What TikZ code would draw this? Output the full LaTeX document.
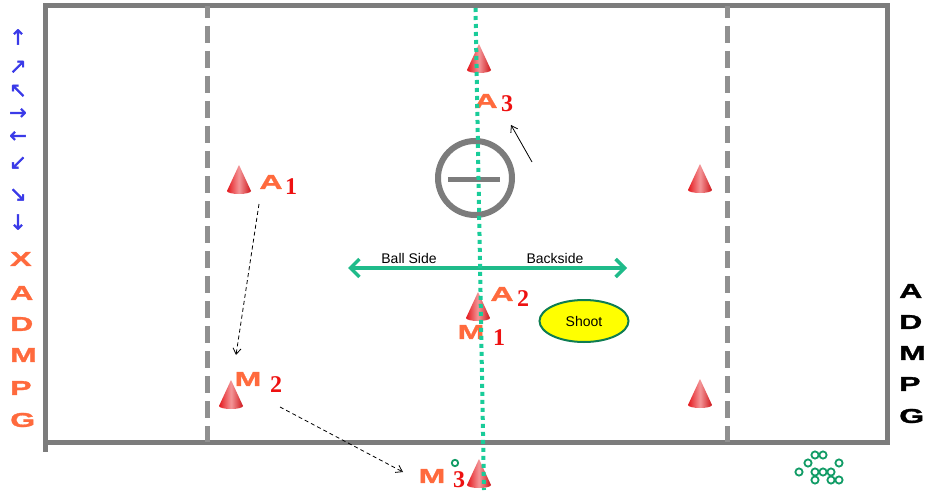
\documentclass[tikz,border=0pt]{standalone}
\usepackage{fontspec}
\setmainfont{Liberation Serif}
\setsansfont{Liberation Sans}
\newfontfamily\blockfont[FakeStretch=1.6,FakeBold=1.5]{Liberation Sans}
\newfontfamily\symfont[FakeBold=1.8]{DejaVu Sans}
\usepackage{tikz}
\usetikzlibrary{arrows.meta,shapes.geometric}
\definecolor{field}{HTML}{7C7C7C}
\definecolor{conered}{HTML}{E5171C}
\definecolor{lbl}{HTML}{FF6A3D}
\definecolor{num}{HTML}{EE1111}
\definecolor{midl}{HTML}{19CC99}
\definecolor{side}{HTML}{1FBB8A}
\definecolor{legblue}{HTML}{3A3AE8}
\definecolor{ring}{HTML}{129C66}
\definecolor{shootc}{HTML}{FFFF00}
\tikzset{
  fieldline/.style={draw=field,line width=5pt},
  halfline/.style={draw=field!85,line width=5pt,dash pattern=on 17pt off 8pt,dash phase=5pt},
  midline/.style={draw=midl,line width=4pt,dash pattern=on 4pt off 4pt},
  plab/.style={font=\blockfont\bfseries\fontsize{20}{20}\selectfont,text=lbl,inner sep=0pt},
  pnum/.style={font=\rmfamily\bfseries\fontsize{24}{24}\selectfont,text=num,inner sep=0pt},
  legarr/.style={font=\symfont\fontsize{21}{21}\selectfont,text=legblue,inner sep=0pt},
  leglet/.style={font=\blockfont\bfseries\fontsize{20}{20}\selectfont,text=lbl,inner sep=0pt,anchor=west},
  sidelab/.style={font=\sffamily\fontsize{14}{14}\selectfont,inner sep=0pt},
  shootbox/.style={ellipse,draw=ring!80!black,line width=2pt,fill=shootc,minimum width=89pt,minimum height=42pt,inner sep=0pt,font=\sffamily\fontsize{14}{14}\selectfont},
  sidearr/.style={{Straight Barb[length=9pt,width=18pt]}-{Straight Barb[length=9pt,width=18pt]},draw=side,line width=3.5pt},
  movearr/.style={-{Straight Barb[length=6pt,width=8pt]},draw=black,line width=0.8pt},
  dmovearr/.style={movearr,dash pattern=on 4pt off 3pt},
  ballring/.style={draw=ring,line width=1.8pt},
  pics/cone/.style={code={
    \shade[left color=conered,right color=conered!90!black,middle color=conered!45]
      (-12,0) -- (0,-26) -- (12,0) arc[start angle=0,end angle=180,x radius=12,y radius=3] -- cycle;
  }},
}

\begin{document}
\begin{tikzpicture}[x=1pt,y=-1pt]
\useasboundingbox[fill=white] (0,0) rectangle (926,492);
% field
\draw[fieldline] (45,6) rectangle (887,442);
\draw[fieldline] (45,442) -- (45,452);
\foreach \x in {207,727}{ \draw[halfline] (\x,6) -- (\x,442);}
% goal circle
\draw[draw=field,line width=6pt] (475,178) circle[radius=37];
\draw[draw=field,line width=5pt] (448,179) -- (500,179);
% cones
\foreach \x/\y in {479/70,239/191,700/190,478/318,231/406,700/405,479/485}{ \pic at (\x,\y) {cone};}
% players
\node[plab] (a1) at (271,182) {A};
\node[pnum] (a1n) at (291,187) {1};
\node[plab] (a3) at (486,101) {A};
\node[pnum] (a3n) at (507,104) {3};
\node[plab] (a2) at (502,294) {A};
\node[pnum] (a2n) at (523,299) {2};
\node[plab] (m1) at (471,332) {M};
\node[pnum] (m1n) at (499,338) {1};
\node[plab] (m2) at (248,379) {M};
\node[pnum] (m2n) at (276,385) {2};
\node[plab] (m3) at (432,476) {M};
\node[pnum] (m3n) at (459,480) {3};
\draw[ballring] (455,463) circle[radius=3.2];
% movement
\coordinate (a3from) at (532,162);
\coordinate (a3to) at (511,125);
\draw[movearr] (a3from) -- (a3to);
\coordinate (a1from) at (259,204);
\coordinate (m2to) at (236,355);
\draw[dmovearr] (a1from) -- (m2to);
\coordinate (m2from) at (280,407);
\coordinate (m3to) at (403,472);
\draw[dmovearr] (m2from) -- (m3to);
% sides
\coordinate (ballL) at (348,268);
\coordinate (ballR) at (627,268);
\draw[sidearr] (ballL) -- (ballR);
\node[sidelab] (ballside) at (409,258) {Ball Side};
\node[sidelab] (backside) at (555,258) {Backside};
\node[shootbox] (shoot) at (584,321) {Shoot};
% balls
\foreach \x/\y in {815/455,823/455,808/463,839/463,799/472,815/472,823/472,831/472,815/480,831/480,839/480}{
  \draw[ballring] (\x,\y) circle[radius=3.6];}
% legend
\foreach \s/\y in {↑/37,↗/67,↖/91,→/114,←/137,↙/163,↘/195,↓/222}{ \node[legarr] (leg\y) at (18,\y) {\s};}
\foreach \l/\y in {X/259,A/293,D/324,M/355,P/388,G/420}{ \node[leglet] (legL\l) at (10,\y) {\l};}
\foreach \l/\y in {A/291,D/322,M/353,P/384,G/416}{ \node[leglet,text=black] (legR\l) at (899,\y) {\l};}
% midfield
\draw[midline] (475.5,8) -- (484,490);
\end{tikzpicture}
\end{document}
